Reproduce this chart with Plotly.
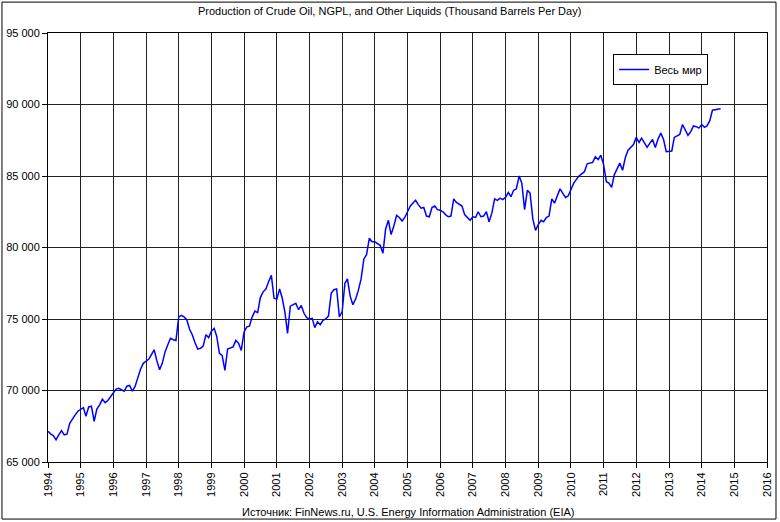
import pandas as pd
import plotly.graph_objects as go

title_text = "Production of Crude Oil, NGPL, and Other Liquids (Thousand Barrels Per Day)"
source_text = "Источник: FinNews.ru, U.S. Energy Information Administration (EIA)"
series_name = "Весь мир"
start_month = "1994-01-01"

# Monthly values (thousand barrels per day), Jan 1994 .. Aug 2014
v1994 = [67150, 66950, 66850, 66550, 66900, 67200, 66900, 66950, 67700, 68050, 68300, 68550]
v1995 = [68650, 68800, 68200, 68850, 68900, 67850, 68700, 69000, 69400, 69150, 69300, 69550]
v1996 = [69800, 70100, 70150, 70050, 69950, 70300, 70350, 69950, 70300, 70900, 71500, 71900]
v1997 = [72050, 72200, 72500, 72850, 72100, 71450, 71900, 72700, 73200, 73650, 73550, 73500]
v1998 = [75150, 75250, 75150, 74950, 74300, 73900, 73350, 72900, 72950, 73100, 73900, 73700]
v1999 = [74150, 74350, 73800, 72600, 72450, 71400, 72900, 72950, 73050, 73500, 73300, 72800]
v2000 = [74100, 74450, 74500, 75150, 75550, 75450, 76500, 76900, 77100, 77600, 78050, 76450]
v2001 = [76400, 77100, 76500, 75500, 74000, 75900, 76000, 76100, 75650, 75950, 75400, 75100]
v2002 = [75000, 75050, 74400, 74800, 74600, 74900, 75000, 75200, 76800, 77050, 77100, 75150]
v2003 = [75500, 77500, 77800, 76600, 76000, 76400, 77000, 77800, 79200, 79500, 80650, 80400]
v2004 = [80400, 80300, 80150, 79600, 81300, 81900, 80900, 81500, 82250, 82100, 81850, 82100]
v2005 = [82500, 82900, 83100, 83300, 83000, 82750, 82800, 82200, 82150, 82800, 82900, 82650]
v2006 = [82600, 82500, 82300, 82150, 82200, 83400, 83150, 83000, 82900, 82300, 82100, 81900]
v2007 = [82150, 82100, 82500, 82150, 82200, 82500, 81800, 82400, 83400, 83300, 83450, 83350]
v2008 = [83500, 83850, 83550, 84000, 84100, 85000, 84500, 82650, 84000, 83800, 82000, 81200]
v2009 = [81600, 81900, 81800, 82100, 82200, 83400, 83100, 83600, 84100, 83800, 83500, 83600]
v2010 = [84100, 84500, 84750, 85000, 85150, 85300, 85850, 85900, 85950, 86350, 86150, 86450]
v2011 = [85800, 84600, 84500, 84200, 85100, 85500, 85900, 85400, 86300, 86800, 87000, 87200]
v2012 = [87700, 87350, 87650, 87300, 87000, 87300, 87550, 87000, 87600, 88000, 87550, 86700]
v2013 = [86700, 86750, 87700, 87800, 87900, 88600, 88250, 87850, 88100, 88500, 88450, 88350]
v2014 = [88600, 88400, 88500, 88850, 89600, 89650, 89650, 89700]

values = (v1994 + v1995 + v1996 + v1997 + v1998 + v1999 + v2000 + v2001 + v2002 + v2003
          + v2004 + v2005 + v2006 + v2007 + v2008 + v2009 + v2010 + v2011 + v2012 + v2013 + v2014)
dates = pd.date_range(start_month, periods=len(values), freq="MS")

y_tickvals = [65000, 70000, 75000, 80000, 85000, 90000, 95000]
y_ticktext = ["65 000", "70 000", "75 000", "80 000", "85 000", "90 000", "95 000"]

fig = go.Figure()
fig.add_trace(go.Scatter(x=dates, y=values, mode="lines", name=series_name,
                         line=dict(color="#0000FF", width=1.5)))

font_family = "Arial, Liberation Sans, sans-serif"
fig.update_layout(
    template="none",
    width=780, height=522,
    margin=dict(l=48, r=13, t=33, b=60, autoexpand=False),
    paper_bgcolor="white", plot_bgcolor="white",
    font=dict(family=font_family, size=11, color="black"),
    showlegend=True,
    legend=dict(x=0.786, y=0.951, xanchor="left", yanchor="top",
                bgcolor="white", bordercolor="black", borderwidth=1,
                font=dict(size=11), itemwidth=30, tracegroupgap=0),
    xaxis=dict(type="date", range=["1994-01-01", "2016-01-01"], automargin=False,
               dtick="M12", tick0="1994-01-01", tickformat="%Y", tickangle=-90,
               ticks="outside", ticklen=5, tickcolor="black",
               showgrid=True, gridcolor="#222222", gridwidth=1,
               showline=True, linecolor="black", linewidth=1, mirror=True,
               zeroline=False, tickfont=dict(size=11)),
    yaxis=dict(range=[65000, 95000], tickvals=y_tickvals, ticktext=y_ticktext,
               automargin=False,
               ticks="outside", ticklen=5, tickcolor="black",
               showgrid=True, gridcolor="#222222", gridwidth=1,
               showline=True, linecolor="black", linewidth=1, mirror=True,
               zeroline=False, tickfont=dict(size=11)),
    annotations=[
        dict(text=title_text, xref="paper", yref="paper", x=0.475, y=1.032,
             xanchor="center", yanchor="bottom", showarrow=False, font=dict(size=11)),
        dict(text=source_text, xref="paper", yref="paper", x=0.5, y=-0.098,
             xanchor="center", yanchor="top", showarrow=False, font=dict(size=11)),
    ],
    shapes=[dict(type="rect", xref="paper", yref="paper", x0=-0.064, x1=1.0125,
                 y0=-0.133, y1=1.072, line=dict(color="black", width=1))],
)

fig.write_html("out.html", config={"displayModeBar": False},
               post_script="document.body.style.margin='0';document.body.style.overflow='hidden';")
